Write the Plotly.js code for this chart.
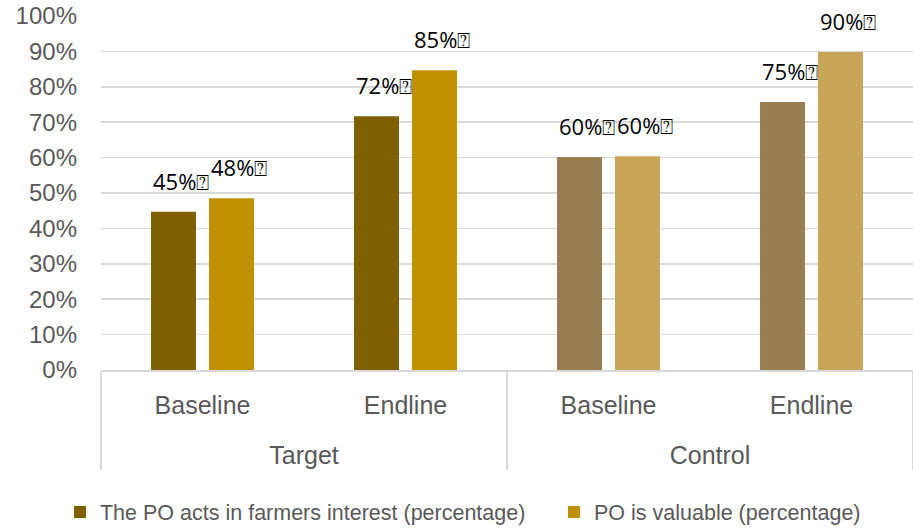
<!DOCTYPE html>
<html>
<head>
<meta charset="utf-8">
<script src="https://cdn.plot.ly/plotly-3.0.1.min.js"></script>
<style>html,body{margin:0;padding:0;background:#fff;}#chart{width:913px;height:529px;}</style>
</head>
<body>
<div id="chart"></div>
<script>
// ---- data ----
const groups = ['Target', 'Target', 'Control', 'Control'];
const phases = ['Baseline', 'Endline', 'Baseline', 'Endline'];
const actsInterest = [44.7, 71.7, 60.2, 75.7];
const valuable = [48.5, 84.7, 60.4, 89.8];
const actsLabels = ['45%', '72%', '60%', '75%'];
const valuableLabels = ['48%', '85%', '60%', '90%'];
const seriesNames = ['The PO acts in farmers interest (percentage)', 'PO is valuable (percentage)'];
const yTickVals = [0, 10, 20, 30, 40, 50, 60, 70, 80, 90, 100];

// ---- style ----
const actsColors = ['#7F6000', '#7F6000', '#977E51', '#977E51'];
const valuableColors = ['#BF9000', '#BF9000', '#C9A558', '#C9A558'];
const BARGAP = 0.429, GROUPGAP = 0.224;
const slot = (1 - BARGAP) / 2;
const suffix = '\u2370';
// group labels sit one blank line lower than the phase labels
const groupTicks = groups.map(g => '<br>' + g);

const traces = [
  {type: 'bar', name: seriesNames[0], x: [groupTicks, phases], y: actsInterest,
   marker: {color: actsColors}, hoverinfo: 'none', legend: 'legend'},
  {type: 'bar', name: seriesNames[1], x: [groupTicks, phases], y: valuable,
   marker: {color: valuableColors}, hoverinfo: 'none', legend: 'legend2'}
];

const annotations = [];
actsInterest.forEach((v, i) => {
  annotations.push({x: i - slot + slot * GROUPGAP / 2, y: v, xref: 'x', yref: 'y',
    text: actsLabels[i] + suffix, showarrow: false, xanchor: 'left', yanchor: 'bottom', yshift: 14,
    font: {family: 'Open Sans, DejaVu Sans, sans-serif', size: 22, color: '#000'}});
});
valuable.forEach((v, i) => {
  annotations.push({x: i + slot * GROUPGAP / 2, y: v, xref: 'x', yref: 'y',
    text: valuableLabels[i] + suffix, showarrow: false, xanchor: 'left', yanchor: 'bottom', yshift: 14,
    font: {family: 'Open Sans, DejaVu Sans, sans-serif', size: 22, color: '#000'}});
});

const legendBase = {orientation: 'h', xref: 'container', yref: 'container', xanchor: 'left',
  y: 0.032, yanchor: 'middle', font: {size: 21.5, color: '#595959'}, itemclick: false,
  bgcolor: 'rgba(0,0,0,0)'};

const layout = {
  width: 913, height: 529,
  margin: {l: 101, r: 0, t: 16, b: 159},
  paper_bgcolor: '#fff', plot_bgcolor: '#fff',
  barmode: 'group', bargap: BARGAP, bargroupgap: GROUPGAP,
  font: {family: 'Liberation Sans, Arial, sans-serif', color: '#595959'},
  xaxis: {type: 'multicategory', showdividers: true, dividercolor: '#D9D9D9', dividerwidth: 1.5,
          tickfont: {size: 25, color: '#595959'}, showline: true, linecolor: '#D9D9D9', linewidth: 1.5,
          showgrid: false, ticks: '', ticklabelstandoff: 12, fixedrange: true, automargin: false},
  yaxis: {range: [0, 100], tickvals: yTickVals, ticktext: yTickVals.map(v => v + '%'),
          showgrid: true, gridcolor: '#D9D9D9', gridwidth: 1.5, zeroline: false, showline: false,
          tickfont: {size: 24, color: '#595959'}, ticks: '', ticklabelstandoff: 23, fixedrange: true,
          automargin: false},
  showlegend: true,
  legend: Object.assign({}, legendBase, {x: 0.0657}),
  legend2: Object.assign({}, legendBase, {x: 0.6068}),
  annotations: annotations
};

Plotly.newPlot('chart', traces, layout, {displayModeBar: false, staticPlot: true});
</script>
</body>
</html>
